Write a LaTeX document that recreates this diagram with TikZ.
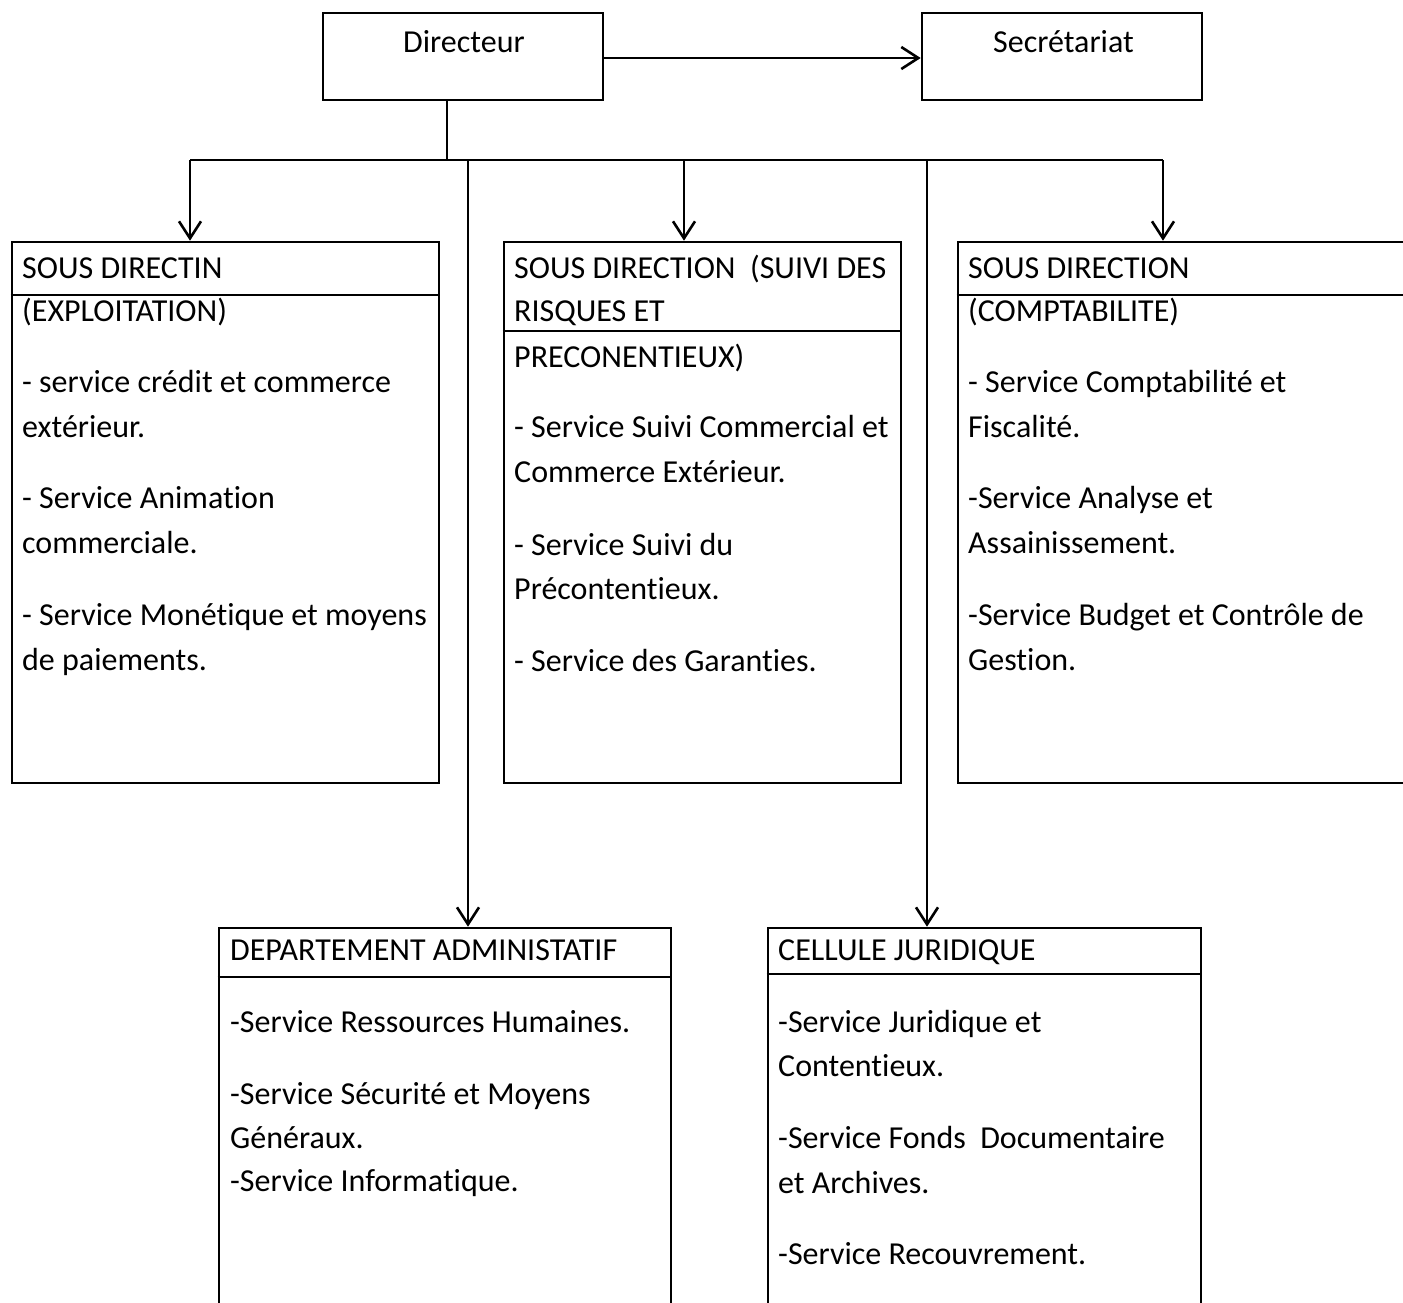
\documentclass[tikz,border=0pt]{standalone}
\usepackage{fontspec}
\setmainfont{Carlito}[Ligatures={NoCommon}]
\usetikzlibrary{arrows.meta}
\begin{document}
\begin{tikzpicture}[x=1pt,y=-1pt,
  every node/.style={font=\fontsize{32}{38}\selectfont},
  box/.style={draw, line width=2.6pt, rectangle, inner sep=0pt},
  txt/.style={anchor=base west, inner sep=0pt},
  conn/.style={line width=2.6pt},
  arr/.style={line width=2.6pt, -{Straight Barb[length=17pt,width=22pt,line width=2.6pt]}}]
\clip (0,0) rectangle (1403,1302);
\fill[white] (0,0) rectangle (1403,1302);
% top boxes
\node[box, minimum width=280pt, minimum height=87pt] (dir) at (463,56.5) {};
\node[box, minimum width=280pt, minimum height=87pt] (sec) at (1062,56.5) {};
\node[txt] (tdir) at (403,52) {Directeur};
\node[txt] (tsec) at (993,52) {Secrétariat};
% second row boxes
\node[box, minimum width=427pt, minimum height=541pt] (b1) at (225.5,512.5) {};
\node[box, minimum width=397pt, minimum height=541pt] (b2) at (702.5,512.5) {};
\node[box, minimum width=455pt, minimum height=541pt] (b3) at (1185.5,512.5) {};
% bottom boxes
\node[box, minimum width=452pt, minimum height=384pt] (b4) at (445,1120) {};
\node[box, minimum width=433pt, minimum height=384pt] (b5) at (984.5,1120) {};
% header rules
\draw[conn] (b1.west |- 0,295) -- (b1.east |- 0,295);
\draw[conn] (b2.west |- 0,331) -- (b2.east |- 0,331);
\draw[conn] (b3.west |- 0,295) -- (b3.east |- 0,295);
\draw[conn] (b4.west |- 0,977) -- (b4.east |- 0,977);
\draw[conn] (b5.west |- 0,974) -- (b5.east |- 0,974);
% connectors
\coordinate (j0) at (447,160);
\coordinate (c1) at (190,160);
\coordinate (c2) at (684,160);
\coordinate (c3) at (1163,160);
\coordinate (c4) at (468,160);
\coordinate (c5) at (927,160);
\draw[arr] (dir.east |- 0,58) -- (sec.west |- 0,58);
\draw[conn] (dir.south -| j0) -- (j0);
\draw[conn] (c1) -- (c3);
\draw[arr] (c1) -- (c1 |- b1.north);
\draw[arr] (c2) -- (c2 |- b2.north);
\draw[arr] (c3) -- (c3 |- b3.north);
\draw[arr] (c4) -- (c4 |- b4.north);
\draw[arr] (c5) -- (c5 |- b5.north);
% box 1 text
\node[txt] (a1) at (22,278) {SOUS DIRECTIN};
\node[txt] (a2) at (22,321) {(EXPLOITATION)};
\node[txt] (a3) at (22,392) {- service crédit et commerce};
\node[txt] (a4) at (22,437) {extérieur.};
\node[txt] (a5) at (22,508) {- Service Animation};
\node[txt] (a6) at (22,553) {commerciale.};
\node[txt] (a7) at (22,625) {- Service Monétique et moyens};
\node[txt] (a8) at (22,670) {de paiements.};
% box 2 text
\node[txt] (m1) at (514,278) {SOUS DIRECTION\ \ (SUIVI DES};
\node[txt] (m2) at (514,321) {RISQUES ET};
\node[txt] (m3) at (514,367) {PRECONENTIEUX)};
\node[txt] (m4) at (514,437) {- Service Suivi Commercial et};
\node[txt] (m5) at (514,482) {Commerce Extérieur.};
\node[txt] (m6) at (514,555) {- Service Suivi du};
\node[txt] (m7) at (514,599) {Précontentieux.};
\node[txt] (m8) at (514,671) {- Service des Garanties.};
% box 3 text
\node[txt] (r1) at (968,278) {SOUS DIRECTION};
\node[txt] (r2) at (968,321) {(COMPTABILITE)};
\node[txt] (r3) at (968,392) {- Service Comptabilité et};
\node[txt] (r4) at (968,437) {Fiscalité.};
\node[txt] (r5) at (968,508) {-Service Analyse et};
\node[txt] (r6) at (968,553) {Assainissement.};
\node[txt] (r7) at (968,625) {-Service Budget et Contrôle de};
\node[txt] (r8) at (968,670) {Gestion.};
% box 4 text
\node[txt] (d1) at (230,960) {DEPARTEMENT ADMINISTATIF};
\node[txt] (d2) at (230,1032) {-Service Ressources Humaines.};
\node[txt] (d3) at (230,1104) {-Service Sécurité et Moyens};
\node[txt] (d4) at (230,1148) {Généraux.};
\node[txt] (d5) at (230,1191) {-Service Informatique.};
% box 5 text
\node[txt] (e1) at (778,960) {CELLULE JURIDIQUE};
\node[txt] (e2) at (778,1032) {-Service Juridique et};
\node[txt] (e3) at (778,1076) {Contentieux.};
\node[txt] (e4) at (778,1148) {-Service Fonds\ \ Documentaire};
\node[txt] (e5) at (778,1193) {et Archives.};
\node[txt] (e6) at (778,1264) {-Service Recouvrement.};
\end{tikzpicture}
\end{document}
